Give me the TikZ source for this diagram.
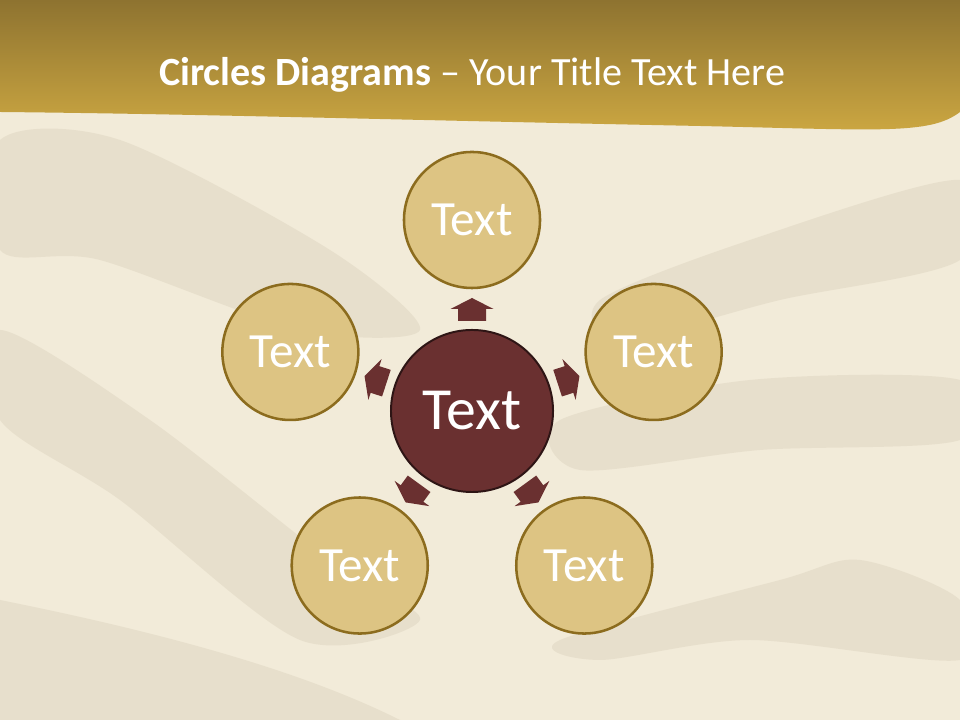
\documentclass[tikz,border=0pt]{standalone}
\usepackage{fontspec}
\setmainfont{Carlito}
\usetikzlibrary{calc}

\definecolor{sandbase}{HTML}{F2EBD9}
\definecolor{sandshade}{HTML}{BDB098}
\definecolor{bandtop}{HTML}{8E7330}
\definecolor{bandbot}{HTML}{CDA842}
\definecolor{petalfill}{HTML}{DDC483}
\definecolor{petalline}{HTML}{8C6C1E}
\definecolor{hubfill}{HTML}{6A3030}
\definecolor{hubline}{HTML}{2E1515}

\begin{document}
\begin{tikzpicture}[x=0.025cm,y=0.025cm]
                      \tikzstyle{petal}=[circle,draw=petalline,fill=petalfill,line width=1.8pt,minimum size=3.4cm,inner sep=0pt,text=white,font=\fontsize{35}{42}\selectfont]
                      \tikzstyle{hub}=[circle,draw=hubline,fill=hubfill,line width=1.4pt,minimum size=4.05cm,inner sep=0pt,text=white,font=\fontsize{42.5}{50}\selectfont]
                      \tikzstyle{blockarrow}=[fill=hubfill]
                      \tikzstyle{sandband}=[fill=sandshade,opacity=0.2]
                      \useasboundingbox (0,0) rectangle (960,720);
                      % sand background
                      \fill[sandbase] (0,0) rectangle (960,720);
                      \fill[sandband] plot[smooth cycle] coordinates {(0,580) (120,580) (330,470) (420,390) (300,390) (100,460) (0,470)};
                      \fill[sandband] plot[smooth cycle] coordinates {(0,390) (150,300) (330,160) (420,100) (300,80) (120,220) (0,300)};
                      \fill[sandband] plot[smooth cycle] coordinates {(600,420) (750,480) (960,540) (960,460) (780,420) (620,380)};
                      \fill[sandband] plot[smooth cycle] coordinates {(560,300) (750,340) (960,340) (960,280) (760,270) (580,250)};
                      \fill[sandband] plot[smooth cycle] coordinates {(560,80) (780,140) (860,160) (960,120) (960,60) (750,80) (600,60)};
                      \fill[sandband] (0,120) .. controls (200,80) and (320,40) .. (400,0) -- (0,0) -- cycle;
                      % title band
                      \shade[top color=bandtop,bottom color=bandbot] (0,720) -- (960,720) -- (960,608) .. controls (930,585) and (880,590) .. (700,594) .. controls (400,600) and (200,606) .. (0,608) -- cycle;
                      \node (title) at (472,645) {\color{white}\fontsize{28.5}{34}\selectfont\textbf{Circles Diagrams} – Your Title Text Here};
                      % circles
                      \node[hub] (c) at (472,309) {Text};
                      \node[petal] (t) at ($(c)+(90:191)$) {Text};
                      \node[petal] (r) at ($(c)+(18:191)$) {Text};
                      \node[petal] (br) at ($(c)+(-54:191)$) {Text};
                      \node[petal] (bl) at ($(c)+(-126:191)$) {Text};
                      \node[petal] (l) at ($(c)+(162:191)$) {Text};
                      % arrows
                      \fill[blockarrow,shift={(c)},rotate=90] (90,-14) -- (102,-14) -- (102,-21.5) -- (113,0) -- (102,21.5) -- (102,14) -- (90,14) -- cycle;
                      \fill[blockarrow,shift={(c)},rotate=18] (90,-14) -- (102,-14) -- (102,-21.5) -- (113,0) -- (102,21.5) -- (102,14) -- (90,14) -- cycle;
                      \fill[blockarrow,shift={(c)},rotate=-54] (90,-14) -- (102,-14) -- (102,-21.5) -- (113,0) -- (102,21.5) -- (102,14) -- (90,14) -- cycle;
                      \fill[blockarrow,shift={(c)},rotate=-126] (90,-14) -- (102,-14) -- (102,-21.5) -- (113,0) -- (102,21.5) -- (102,14) -- (90,14) -- cycle;
                      \fill[blockarrow,shift={(c)},rotate=162] (90,-14) -- (102,-14) -- (102,-21.5) -- (113,0) -- (102,21.5) -- (102,14) -- (90,14) -- cycle;
                  \end{tikzpicture}
\end{document}
